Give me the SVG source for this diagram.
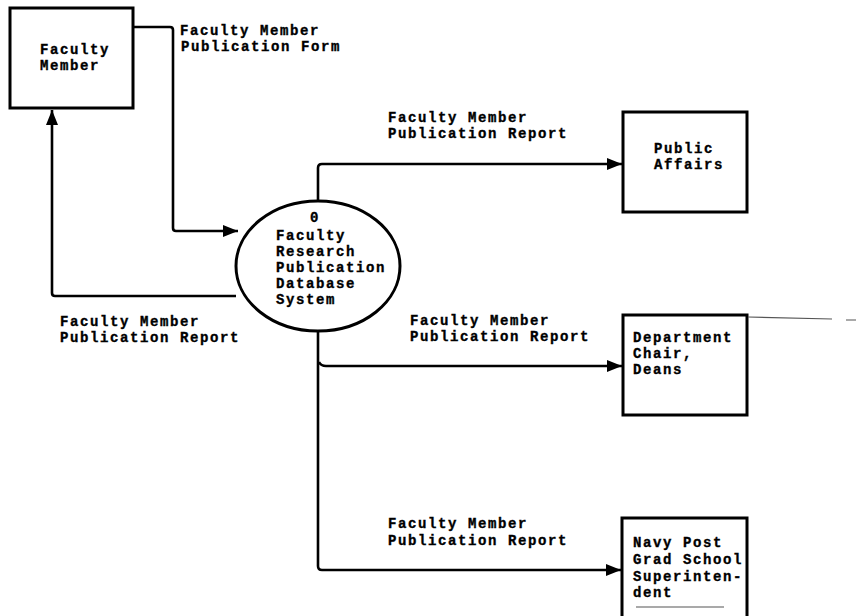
<svg xmlns="http://www.w3.org/2000/svg" width="862" height="616" viewBox="0 0 862 616">
<style>
.box{fill:#fff;stroke:#000;stroke-width:3}
.flow{fill:none;stroke:#000;stroke-width:2.6}
.t{font-family:"Liberation Mono","DejaVu Sans Mono",monospace;font-weight:bold;font-size:14px;letter-spacing:1.6px;fill:#000;stroke:#000;stroke-width:0.35}
.art{stroke:#555;stroke-width:1.2;fill:none}
</style>
<defs>
<marker id="ah" viewBox="0 0 15 12" refX="15" refY="6" markerWidth="15" markerHeight="12" markerUnits="userSpaceOnUse" orient="auto">
<path d="M0,0 L15,6 L0,12 Z" fill="#000"/>
</marker>
</defs>
<rect width="862" height="616" fill="#fff"/>
<g id="connectors">
<path class="flow" d="M133,27 H170 Q173,27 173,30 V228 Q173,231 176,231 H238" marker-end="url(#ah)"/>
<path class="flow" d="M236,296 H55 Q52,296 52,293 V110" marker-end="url(#ah)"/>
<path class="flow" d="M318,201 V168 Q318,164 322,164 H622" marker-end="url(#ah)"/>
<path class="flow" d="M318,331 V566 Q318,570 322,570 H621" marker-end="url(#ah)"/>
<path class="flow" d="M319,362 Q321,366 326,366 H622" marker-end="url(#ah)"/>
<text class="t" x="180" y="35">Faculty Member</text>
<text class="t" x="181" y="51">Publication Form</text>
<text class="t" x="388" y="122">Faculty Member</text>
<text class="t" x="388" y="138">Publication Report</text>
<text class="t" x="60" y="326">Faculty Member</text>
<text class="t" x="60" y="342">Publication Report</text>
<text class="t" x="410" y="325">Faculty Member</text>
<text class="t" x="410" y="341">Publication Report</text>
<text class="t" x="388" y="528">Faculty Member</text>
<text class="t" x="388" y="545">Publication Report</text>
</g>
<g id="faculty-member">
<rect class="box" x="10" y="8" width="123" height="100"/>
<text class="t" x="40" y="54">Faculty</text>
<text class="t" x="40" y="70">Member</text>
</g>
<g id="process-0">
<ellipse class="box" cx="318" cy="266" rx="82" ry="65"/>
<text class="t" x="310" y="222">0</text>
<text class="t" x="276" y="240">Faculty</text>
<text class="t" x="276" y="256">Research</text>
<text class="t" x="276" y="272">Publication</text>
<text class="t" x="276" y="288">Database</text>
<text class="t" x="276" y="304">System</text>
</g>
<g id="public-affairs">
<rect class="box" x="623" y="112" width="124" height="100"/>
<text class="t" x="654" y="153">Public</text>
<text class="t" x="654" y="169">Affairs</text>
</g>
<g id="department-chair">
<rect class="box" x="623" y="315" width="124" height="100"/>
<text class="t" x="633" y="342">Department</text>
<text class="t" x="633" y="358">Chair,</text>
<text class="t" x="633" y="374">Deans</text>
<path class="art" d="M748,317 L832,319 M846,320 L856,320"/>
</g>
<g id="navy-superintendent">
<rect class="box" x="622" y="518" width="125" height="110"/>
<text class="t" x="633" y="547">Navy Post</text>
<text class="t" x="633" y="564">Grad School</text>
<text class="t" x="633" y="581">Superinten-</text>
<text class="t" x="633" y="597">dent</text>
<path class="art" d="M636,607 H724"/>
</g>
</svg>
